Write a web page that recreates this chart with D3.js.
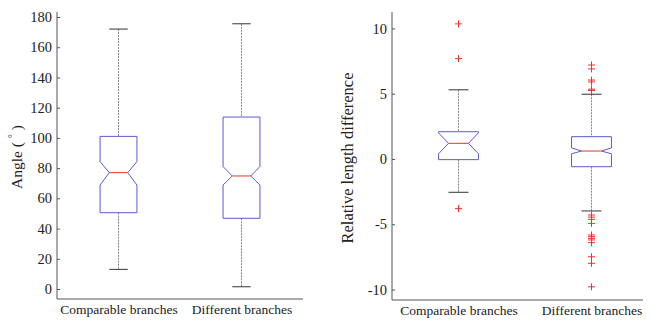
<!DOCTYPE html>
<html>
<head>
<meta charset="utf-8">
<script src="https://cdn.jsdelivr.net/npm/d3@7"></script>
<style>
  body { margin: 0; background: #fff; }
  svg { display: block; }
  text { font-family: "Liberation Serif", "Times New Roman", serif; fill: #222; }
</style>
</head>
<body>
<svg id="chart" width="653" height="320"></svg>
<script>
// categories shared by both panels
const categories = ['Comparable branches', 'Different branches'];

// left panel: angle (degrees)
const angleStats = [
  { lo: 13, q1: 50.5, med: 77, q3: 101, hi: 172, nlo: 68.8, nhi: 84.3 },
  { lo: 1.5, q1: 46.8, med: 74.8, q3: 113.8, hi: 175.5, nlo: 68.8, nhi: 81 }
];
const angleOutliers = [[], []];
const angleTicks = [0, 20, 40, 60, 80, 100, 120, 140, 160, 180];

// right panel: relative length difference
const lenStats = [
  { lo: -2.55, q1: -0.05, med: 1.2, q3: 2.09, hi: 5.3, nlo: 0.4, nhi: 2.0 },
  { lo: -3.98, q1: -0.59, med: 0.61, q3: 1.71, hi: 4.96, nlo: 0.4, nhi: 0.85 }
];
const lenOutliers = [
  [10.35, 7.69, -3.8],
  [7.2, 6.9, 6.05, 5.9, 5.35, 5.25,
   -4.29, -4.45, -4.62, -4.93, -5.82, -5.95, -6.08, -6.2, -6.41, -7.49, -7.99, -9.79]
];
const lenTicks = [-10, -5, 0, 5, 10];

const svg = d3.select('#chart');

function drawPanel(opt) {
  const g = svg.append('g');
  const x = d3.scalePoint().domain(categories).range(opt.xRange).padding(0.5);
  const y = d3.scaleLinear().domain(opt.yDomain).range([opt.bottom, opt.top]);
  const boxW = x.step() * 0.3;

  // y axis (ticks point inward)
  const yAxis = g.append('g')
    .attr('transform', `translate(${opt.xRange[0]},0)`)
    .call(d3.axisRight(y).tickValues(opt.ticks).tickFormat(d => String(d))
      .tickSize(3).tickSizeOuter(0));
  yAxis.select('.domain').remove();
  yAxis.selectAll('line').attr('stroke', '#555');
  yAxis.selectAll('text')
    .attr('x', -5)
    .attr('text-anchor', 'end')
    .style('font-size', '14.5px');
  g.append('line')
    .attr('x1', opt.xRange[0]).attr('x2', opt.xRange[0])
    .attr('y1', opt.top).attr('y2', opt.bottom)
    .attr('stroke', '#555');

  // x axis
  const xAxis = g.append('g')
    .attr('transform', `translate(0,${opt.bottom})`)
    .call(d3.axisBottom(x).tickSize(0));
  xAxis.select('.domain').remove();
  xAxis.selectAll('text')
    .attr('y', 15)
    .attr('dy', 0)
    .style('font-size', '13.5px');
  g.append('line')
    .attr('x1', opt.xRange[0]).attr('x2', opt.axisEnd)
    .attr('y1', opt.bottom).attr('y2', opt.bottom)
    .attr('stroke', '#555');

  // y label
  g.append('text')
    .attr('transform', `translate(${opt.labelX},${opt.labelY}) rotate(-90)`)
    .attr('text-anchor', 'middle')
    .style('font-size', opt.labelSize)
    .html(opt.label);

  const boxes = g.selectAll('.box')
    .data(opt.stats)
    .enter().append('g')
    .attr('class', 'box')
    .attr('transform', (d, i) => `translate(${x(categories[i])},0)`);

  // whiskers
  boxes.append('line')
    .attr('y1', d => y(d.hi)).attr('y2', d => y(d.q3))
    .attr('stroke', '#888').attr('stroke-dasharray', '2,1');
  boxes.append('line')
    .attr('y1', d => y(d.q1)).attr('y2', d => y(d.lo))
    .attr('stroke', '#888').attr('stroke-dasharray', '2,1');
  boxes.selectAll('.cap')
    .data(d => [d.hi, d.lo])
    .enter().append('line')
    .attr('x1', -boxW / 4).attr('x2', boxW / 4)
    .attr('y1', v => y(v)).attr('y2', v => y(v))
    .attr('stroke', '#333');

  // notched box
  boxes.append('path')
    .attr('d', d => {
      const l = -boxW / 2, r = boxW / 2, n = boxW / 4;
      return `M${l},${y(d.q1)}L${l},${y(d.nlo)}L${l + n},${y(d.med)}L${l},${y(d.nhi)}` +
        `L${l},${y(d.q3)}L${r},${y(d.q3)}L${r},${y(d.nhi)}L${r - n},${y(d.med)}` +
        `L${r},${y(d.nlo)}L${r},${y(d.q1)}Z`;
    })
    .attr('fill', 'none')
    .attr('stroke', '#5a5ad0');
  boxes.append('line')
    .attr('x1', -boxW / 4).attr('x2', boxW / 4)
    .attr('y1', d => y(d.med)).attr('y2', d => y(d.med))
    .attr('stroke', '#f03030');

  // outliers
  opt.outliers.forEach((list, i) => {
    const cx = x(categories[i]);
    list.forEach(v => {
      const cy = y(v);
      g.append('path')
        .attr('d', `M${cx - 3.5},${cy}H${cx + 3.5}M${cx},${cy - 3.5}V${cy + 3.5}`)
        .attr('stroke', '#f03030');
    });
  });
}

drawPanel({
  xRange: [57, 303], axisEnd: 303, top: 12, bottom: 299,
  yDomain: [-6.6, 183.3], ticks: angleTicks, stats: angleStats, outliers: angleOutliers,
  label: 'Angle ( <tspan dy="-6" font-size="10px">°</tspan><tspan dy="6"> )</tspan>',
  labelSize: '15.5px', labelX: 22, labelY: 157
});

drawPanel({
  xRange: [392, 658], axisEnd: 643, top: 12, bottom: 300,
  yDomain: [-10.8, 11.26], ticks: lenTicks, stats: lenStats, outliers: lenOutliers,
  label: 'Relative length difference',
  labelSize: '16.5px', labelX: 353, labelY: 158
});
</script>
</body>
</html>
